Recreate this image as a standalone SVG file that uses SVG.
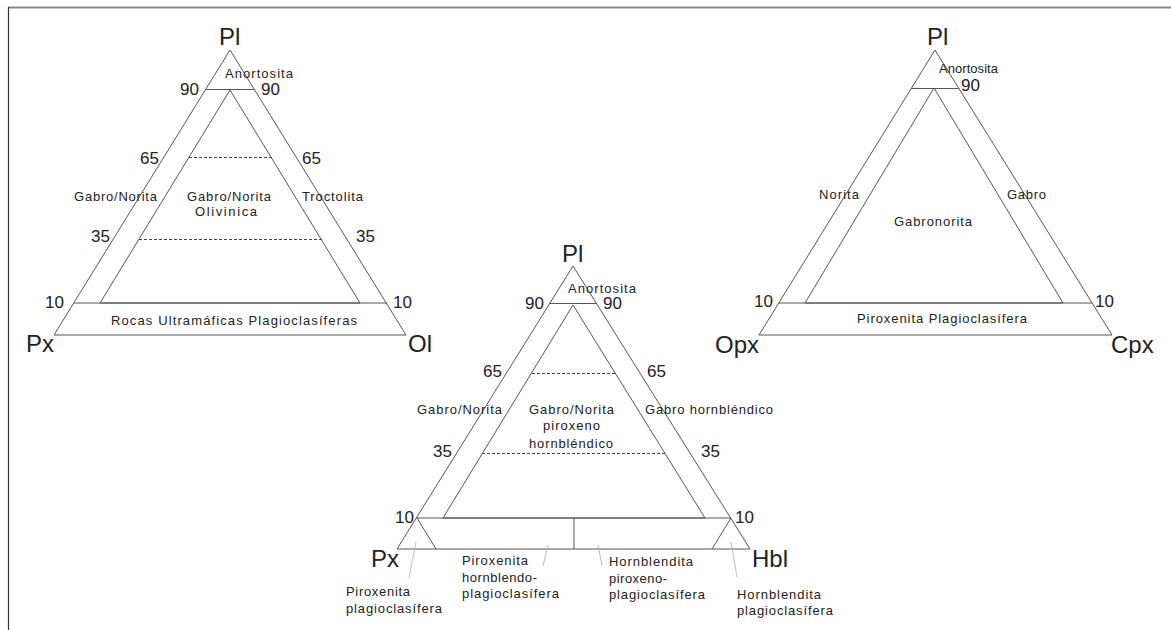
<svg xmlns="http://www.w3.org/2000/svg" width="1171" height="630" viewBox="0 0 1171 630">
<style>
text{font-family:"Liberation Sans",Arial,sans-serif;fill:#222}
.big{font-size:24px}
.num{font-size:17px}
.lab{font-size:13px}
.ln{stroke:#555;stroke-width:1;fill:none}
.ds{stroke:#444;stroke-width:1;stroke-dasharray:3,2;fill:none}
.ld{stroke:#aaa;stroke-width:0.8;fill:none}
</style>
<rect x="0" y="0" width="1171" height="630" fill="#fff"/>
<g id="frame">
<line x1="8" y1="7.5" x2="1171" y2="7.5" stroke="#888" stroke-width="2"/>
<line x1="8.5" y1="7" x2="8.5" y2="630" stroke="#333" stroke-width="1.2"/>
</g>

<g id="tri-px-pl-ol">
<polygon class="ln" points="230,50 54,335 406,335"/>
<polygon class="ln" points="230,90 100,303 360,303"/>
<line class="ln" x1="206" y1="89.5" x2="254" y2="89.5"/>
<line class="ln" x1="74" y1="303" x2="387" y2="303"/>
<line class="ds" x1="189" y1="157.5" x2="272" y2="157.5"/>
<line class="ds" x1="139" y1="239.5" x2="322" y2="239.5"/>
<text class="big" x="219" y="45">Pl</text>
<text class="big" x="26" y="352">Px</text>
<text class="big" x="408" y="352">Ol</text>
<text class="lab" x="225" y="78" textLength="68">Anortosita</text>
<text class="num" x="180" y="95">90</text>
<text class="num" x="261" y="95">90</text>
<text class="num" x="140" y="164">65</text>
<text class="num" x="302" y="164">65</text>
<text class="lab" x="74" y="200.5" textLength="83">Gabro/Norita</text>
<text class="lab" x="187" y="200.5" textLength="84">Gabro/Norita</text>
<text class="lab" x="195" y="215.5" textLength="62">Olivinica</text>
<text class="lab" x="302" y="200.5" textLength="61">Troctolita</text>
<text class="num" x="91" y="242">35</text>
<text class="num" x="356" y="242">35</text>
<text class="num" x="45" y="308">10</text>
<text class="num" x="393" y="308">10</text>
<text class="lab" x="111" y="325" textLength="246">Rocas Ultramáficas Plagioclasíferas</text>
</g>

<g id="tri-opx-pl-cpx">
<polygon class="ln" points="935,50 759,335 1112,335"/>
<polygon class="ln" points="934,88 805,303 1063,303"/>
<line class="ln" x1="911" y1="88.5" x2="959" y2="88.5"/>
<line class="ln" x1="779" y1="303" x2="1092" y2="303"/>
<text class="big" x="927" y="45">Pl</text>
<text class="big" x="715" y="353">Opx</text>
<text class="big" x="1111" y="353">Cpx</text>
<text class="lab" x="939" y="73" textLength="59">Anortosita</text>
<text class="num" x="961" y="91">90</text>
<text class="lab" x="819" y="199" textLength="40">Norita</text>
<text class="lab" x="1007" y="199" textLength="39">Gabro</text>
<text class="lab" x="894" y="226" textLength="78">Gabronorita</text>
<text class="num" x="754" y="307">10</text>
<text class="num" x="1095" y="307">10</text>
<text class="lab" x="857" y="323" textLength="170">Piroxenita Plagioclasífera</text>
</g>

<g id="tri-px-pl-hbl">
<polygon class="ln" points="573,266 397,549 750,549"/>
<polygon class="ln" points="573,305 443,518 705,518"/>
<line class="ln" x1="550" y1="303.5" x2="596" y2="303.5"/>
<line class="ln" x1="416" y1="518" x2="731" y2="518"/>
<line class="ln" x1="574" y1="518" x2="574" y2="549"/>
<line class="ln" x1="417" y1="518" x2="436" y2="549"/>
<line class="ln" x1="731" y1="518" x2="712" y2="549"/>
<line class="ds" x1="532" y1="373.5" x2="615" y2="373.5"/>
<line class="ds" x1="482" y1="453.5" x2="665" y2="453.5"/>
<text class="big" x="562" y="262">Pl</text>
<text class="big" x="371" y="567">Px</text>
<text class="big" x="752" y="567">Hbl</text>
<text class="lab" x="568" y="293" textLength="68">Anortosita</text>
<text class="num" x="525" y="309">90</text>
<text class="num" x="603" y="309">90</text>
<text class="num" x="483" y="377">65</text>
<text class="num" x="647" y="377">65</text>
<text class="lab" x="417" y="414" textLength="85">Gabro/Norita</text>
<text class="lab" x="529" y="414" textLength="85">Gabro/Norita</text>
<text class="lab" x="543" y="430" textLength="57">piroxeno</text>
<text class="lab" x="529" y="448" textLength="84">hornbléndico</text>
<text class="lab" x="645" y="414" textLength="128">Gabro hornbléndico</text>
<text class="num" x="433" y="457">35</text>
<text class="num" x="701" y="457">35</text>
<text class="num" x="395" y="523">10</text>
<text class="num" x="735" y="523">10</text>
<text class="lab" x="346" y="596" textLength="64">Piroxenita</text>
<text class="lab" x="346" y="613" textLength="96">plagioclasífera</text>
<text class="lab" x="462" y="565" textLength="66">Piroxenita</text>
<text class="lab" x="462" y="582" textLength="75">hornblendo-</text>
<text class="lab" x="462" y="598" textLength="97">plagioclasífera</text>
<text class="lab" x="609" y="566" textLength="84">Hornblendita</text>
<text class="lab" x="609" y="583" textLength="58">piroxeno-</text>
<text class="lab" x="609" y="599" textLength="96">plagioclasífera</text>
<text class="lab" x="737" y="599" textLength="84">Hornblendita</text>
<text class="lab" x="737" y="615" textLength="96">plagioclasífera</text>
</g>

<g id="connectors">
<line class="ld" x1="416" y1="542" x2="409" y2="578"/>
<line class="ld" x1="548" y1="545" x2="543" y2="566"/>
<line class="ld" x1="598" y1="545" x2="602" y2="565"/>
<line class="ld" x1="731" y1="542" x2="737" y2="577"/>
</g>
</svg>
